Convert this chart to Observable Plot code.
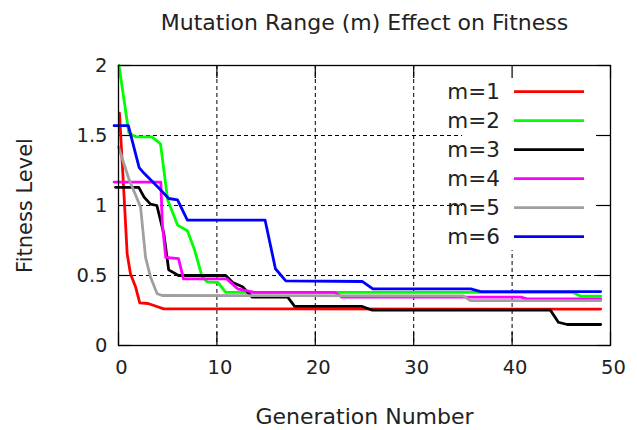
<!DOCTYPE html>
<html><head><meta charset="utf-8">
<script src="https://cdn.jsdelivr.net/npm/d3@7"></script>
<script src="https://cdn.jsdelivr.net/npm/@observablehq/plot@0.6"></script>
<style>
body{margin:0;background:#fff;}
#chart{position:relative;width:637px;height:430px;}
</style></head><body><div id="chart"></div>
<script>
const chartTitle = "Mutation Range (m) Effect on Fitness";
const xLabel = "Generation Number";
const yLabel = "Fitness Level";
const seriesNames = ["m=1","m=2","m=3","m=4","m=5","m=6"];
const seriesColors = ["#ff0000","#00ff00","#000000","#ff00ff","#a0a0a0","#0000ff"];

const gen1 = [0.1, 0.54, 0.88, 1.22, 1.73, 2.16, 3.0, 3.6, 4.6, 49];
const fit1 = [1.66, 1.1, 0.655, 0.51, 0.42, 0.305, 0.30, 0.286, 0.262, 0.26];
const gen2 = [0.05, 1.05, 1.73, 3.4, 4.27, 5.0, 6.0, 7.0, 7.7, 8.5, 9.0, 10.1, 10.9, 46.1, 47, 49];
const fit2 = [2.0, 1.52, 1.49, 1.49, 1.44, 1.04, 0.86, 0.82, 0.69, 0.49, 0.455, 0.45, 0.38, 0.38, 0.352, 0.352];
const gen3 = [-0.3, 2.06, 2.6, 3.25, 3.9, 4.6, 5.1, 6.1, 10.9, 11.6, 12.6, 13.6, 17.2, 17.9, 24.7, 25.8, 43.9, 44.7, 45.6, 49];
const fit3 = [1.13, 1.13, 1.06, 1.01, 1.0, 0.8, 0.54, 0.5, 0.5, 0.45, 0.42, 0.345, 0.345, 0.28, 0.28, 0.252, 0.252, 0.166, 0.15, 0.15];
const gen4 = [-0.45, 4.3, 4.45, 4.8, 6.1, 6.6, 11.0, 12.1, 13.8, 22.0, 22.7, 40.9, 41.5, 49];
const fit4 = [1.167, 1.167, 0.87, 0.63, 0.62, 0.476, 0.476, 0.405, 0.38, 0.38, 0.345, 0.345, 0.333, 0.333];
const gen5 = [0, 1.05, 2.06, 2.24, 2.75, 3.25, 3.93, 4.44, 35.0, 35.8, 49];
const fit5 = [1.42, 1.19, 1.02, 0.99, 0.63, 0.49, 0.37, 0.357, 0.355, 0.32, 0.32];
const gen6 = [-0.45, 1.0, 2.1, 2.6, 4.3, 5.1, 6.0, 7.0, 14.9, 15.95, 17.0, 24.8, 25.85, 35.8, 36.8, 49];
const fit6 = [1.57, 1.57, 1.27, 1.23, 1.11, 1.05, 1.04, 0.895, 0.895, 0.548, 0.462, 0.457, 0.405, 0.405, 0.385, 0.385];

const xTicks = [0, 10, 20, 30, 40, 50];
const yTicks = [0, 0.5, 1, 1.5, 2];
const yTickLabels = ["0", "0.5", "1", "1.5", "2"];

const gens = [gen1, gen2, gen3, gen4, gen5, gen6];
const fits = [fit1, fit2, fit3, fit4, fit5, fit6];
const data = [];
seriesNames.forEach((s, i) => gens[i].forEach((g, j) => data.push({series: s, gen: g, fit: fits[i][j]})));

const W = 637, H = 430, mL = 118, mR = 27, mT = 65, mB = 85;
const fh = H - mT - mB, fw = W - mL - mR, tickLen = 13;
const font = "DejaVu Sans";

const plot = Plot.plot({
  width: W, height: H, marginLeft: mL, marginRight: mR, marginTop: mT, marginBottom: mB,
  style: {fontFamily: font, fontSize: "19px", color: "#222", background: "#fff"},
  x: {domain: [0, 50], label: null},
  y: {domain: [0, 2], label: null},
  color: {domain: seriesNames, range: seriesColors},
  marks: [
    Plot.gridX(xTicks, {stroke: "#000", strokeOpacity: 1, strokeWidth: 1, strokeDasharray: "4,3"}),
    Plot.gridY(yTicks, {stroke: "#000", strokeOpacity: 1, strokeWidth: 1, strokeDasharray: "4,3"}),
    Plot.ruleX(xTicks, {stroke: "#000", strokeWidth: 1.2, insetTop: fh - tickLen}),
    Plot.ruleX(xTicks, {stroke: "#000", strokeWidth: 1.2, insetBottom: fh - tickLen}),
    Plot.ruleY(yTicks, {stroke: "#000", strokeWidth: 1.2, insetRight: fw - tickLen}),
    Plot.ruleY(yTicks, {stroke: "#000", strokeWidth: 1.2, insetLeft: fw - tickLen}),
    Plot.axisX(xTicks, {tickSize: 0, tickPadding: 15, dx: 3, fontSize: 19.5, fill: "#222"}),
    Plot.axisY(yTicks, {tickSize: 0, tickPadding: 11, fontSize: 19.5, fill: "#222", tickFormat: d => yTickLabels[yTicks.indexOf(d)]}),
    Plot.line(data, {x: "gen", y: "fit", z: "series", stroke: "series", strokeWidth: 2.8, curve: "linear"}),
    Plot.frame({stroke: "#000", strokeWidth: 1.3}),
    Plot.text([chartTitle], {frameAnchor: "top", dy: -51, fontSize: 22, fill: "#222"}),
    Plot.text([xLabel], {frameAnchor: "bottom", dy: 78, fontSize: 22, fill: "#222"}),
    Plot.text([yLabel], {frameAnchor: "left", textAnchor: "middle", dx: -93, rotate: -90, fontSize: 21, fill: "#222"})
  ]
});
document.getElementById("chart").appendChild(plot);

// legend box (white, hides the grid) with entries
const svgSel = d3.select(plot);
const xs = plot.scale("x"), ys = plot.scale("y");
const boxRight = xs.apply(50) - 14, boxLeft = boxRight - 134;
const boxTop = ys.apply(2), boxBottom = boxTop + 185;
const gridNode = plot.querySelector('[aria-label="y-grid"]');
const lg = document.createElementNS("http://www.w3.org/2000/svg", "g");
gridNode.parentNode.insertBefore(lg, gridNode.nextSibling);
d3.select(lg).append("rect").attr("x", boxLeft).attr("y", boxTop)
  .attr("width", boxRight - boxLeft).attr("height", boxBottom - boxTop).attr("fill", "#fff");
const lg2 = svgSel.append("g");
seriesNames.forEach((s, i) => {
  const yy = boxTop + 26.7 + 29 * i;
  lg2.append("text").attr("x", boxRight - 96).attr("y", yy).attr("text-anchor", "end")
    .attr("dominant-baseline", "central").attr("font-family", font).attr("font-size", 21.5).attr("fill", "#222").text(s);
  lg2.append("line").attr("x1", boxRight - 82).attr("x2", boxRight - 12).attr("y1", yy).attr("y2", yy)
    .attr("stroke", seriesColors[i]).attr("stroke-width", 2.8);
});
</script></body></html>
